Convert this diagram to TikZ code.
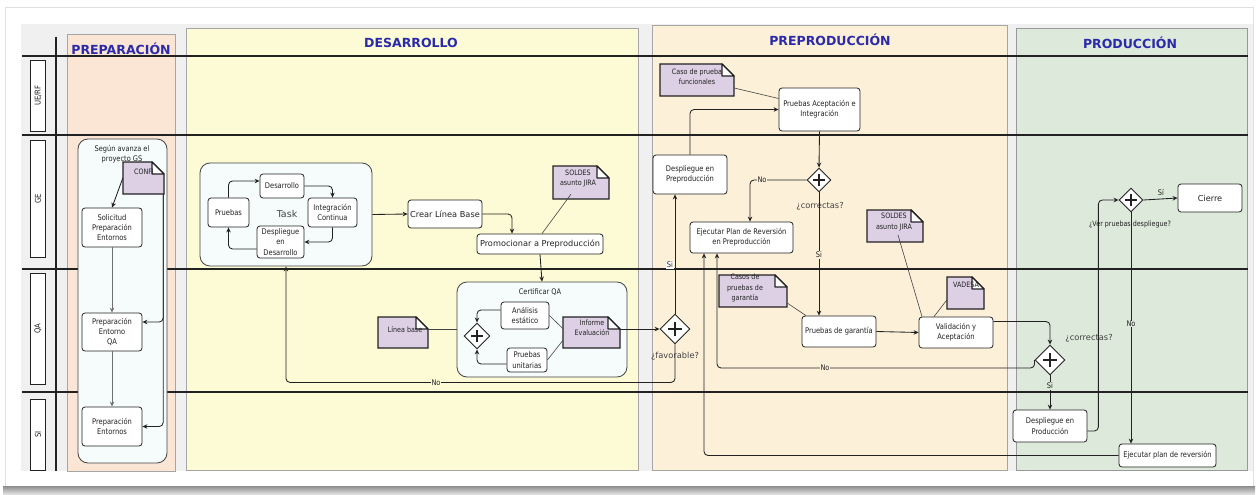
\documentclass[tikz,border=0pt]{standalone}
\usepackage{fontspec}
\setmainfont{DejaVu Sans}
\newfontfamily\cond{DejaVu Sans}[FakeStretch=0.86]
\usetikzlibrary{shapes.geometric,arrows.meta,calc,fit}
\definecolor{prepc}{HTML}{FBE6D6}
\definecolor{desc}{HTML}{FCFBD5}
\definecolor{prec}{HTML}{FCF0D8}
\definecolor{proc}{HTML}{DDE9DA}
\definecolor{panel}{HTML}{F0F0F0}
\definecolor{contc}{HTML}{F6FBFC}
\definecolor{notec}{HTML}{DDD0E5}
\definecolor{ttl}{HTML}{2A2AAA}
\definecolor{ink}{HTML}{222222}
\newcommand\notebox[5]{%
  \filldraw[notefill] (#2,#3) -- ({#4-12},#3) -- (#4,{#3+12}) -- (#4,#5) -- (#2,#5) -- cycle;
  \filldraw[fill=white, draw=ink, line width=1.2pt, line join=round] ({#4-12},#3) -- ({#4-12},{#3+12}) -- (#4,{#3+12}) -- cycle;
  \path (#2,#3) coordinate (#1-a) (#4,#5) coordinate (#1-b);
  \node[fit=(#1-a)(#1-b), inner sep=0pt] (#1) {};
}
\begin{document}
\begin{tikzpicture}[x=1pt,y=-1pt,
  box/.style={draw=ink, fill=white, rounded corners=3pt, line width=0.8pt, align=center, inner sep=1pt, font=\cond\fontsize{7.8}{10.2}\selectfont, text=ink},
  bigbox/.style={box, font=\fontsize{8.2}{10}\selectfont},
  contbox/.style={draw=ink!85, fill=contc, rounded corners=10pt, line width=0.8pt},
  gw/.style={diamond, draw=ink, fill=white, line width=0.9pt, inner sep=0pt, aspect=1},
  arr/.style={draw=ink, line width=0.85pt, -{Stealth[length=5pt,width=4.5pt]}, rounded corners=4pt},
  assoc/.style={draw=ink!85, line width=0.6pt},
  lbl/.style={font=\cond\fontsize{7.7}{9}\selectfont, text=ink, inner sep=0.6pt},
  qlbl/.style={font=\fontsize{8.3}{10}\selectfont, text=ink!85},
  ttlf/.style={font=\bfseries\fontsize{12.5}{14}\selectfont, text=ttl},
  lanebox/.style={draw=ink, fill=white, line width=0.8pt, rotate=90, font=\cond\fontsize{8}{9}\selectfont, text=ink, minimum height=15.5pt, inner sep=0pt},
  notefill/.style={fill=notec, draw=ink, line width=1.4pt, line join=miter},
  notet/.style={font=\cond\fontsize{7.4}{10.3}\selectfont, text=ink, align=center, inner sep=0pt},
]
\useasboundingbox (0,0) rectangle (1258,495);
% background
\fill[white] (0,0) rectangle (1258,495);
\shade[top color=black!45, bottom color=black!8] (3,486) rectangle (1255,495);
\draw[black!12, line width=0.8pt] (5,486) -- (5,7) -- (1253,7) -- (1253,486);
\fill[panel] (21,24) rectangle (1253,471);
% columns
\filldraw[fill=prepc, draw=black!35, line width=0.8pt] (67,34) rectangle (175,471);
\filldraw[fill=desc, draw=black!35, line width=0.8pt] (186,28) rectangle (638,470);
\filldraw[fill=prec, draw=black!35, line width=0.8pt] (652,25) rectangle (1007,470);
\filldraw[fill=proc, draw=black!40, line width=0.8pt] (1016,28) rectangle (1247,470);
\node[ttlf] (t1) at (121,48.5) {PREPARACIÓN};
\node[ttlf] (t2) at (411,43) {DESARROLLO};
\node[ttlf] (t3) at (830,40) {PREPRODUCCIÓN};
\node[ttlf] (t4) at (1130,43) {PRODUCCIÓN};
% lanes
\foreach \yy in {56,135,269,392} \draw[line width=1.1pt, ink] (22,\yy) -- (1248,\yy);
\draw[line width=1.1pt, ink] (56,37) -- (56,471);
\node[lanebox, minimum width=71pt] (l1) at (38,95.5) {UE/RF};
\node[lanebox, minimum width=117pt] (l2) at (38,198.5) {GE};
\node[lanebox, minimum width=111pt] (l3) at (38,328.5) {QA};
\node[lanebox, minimum width=71pt] (l4) at (38,434.5) {SI};
% ---------- PREPARACION
\node[contbox, minimum width=89pt, minimum height=324pt] (prepbox) at (122.5,301) {};
\node[lbl, align=center, font=\cond\fontsize{7.7}{10}\selectfont] (segun) at (122,154) {Según avanza el\\proyecto GS};
\notebox{conf}{123}{162}{164}{194}
\node[notet] at (144,172) {CONFI};
\node[box, minimum width=60pt, minimum height=39pt] (sol) at (112,227.5) {Solicitud\\Preparación\\Entornos};
\node[box, minimum width=60pt, minimum height=38pt] (pqa) at (112,332) {Preparación\\Entorno\\QA};
\node[box, minimum width=60pt, minimum height=39pt] (pen) at (112,426.5) {Preparación\\Entornos};
\draw[arr] (conf.west) -- (sol.north);
\draw[arr, draw=ink!65] (sol.south) -- (pqa.north);
\draw[arr, draw=ink!65] (pqa.south) -- (pen.north);
\draw[arr] ([xshift=-1pt]conf.south east) |- (pen.east);
\draw[arr] ([xshift=-1pt]conf.south east) |- ([yshift=10pt]pqa.east);
% ---------- DESARROLLO
\node[contbox, minimum width=172pt, minimum height=103pt] (task) at (286,214.5) {};
\node[font=\fontsize{9.5}{11}\selectfont, text=ink!85] (tasklbl) at (287,214) {Task};
\node[box, minimum width=44pt, minimum height=24pt] (des) at (282,186) {Desarrollo};
\node[box, minimum width=49pt, minimum height=29pt] (int) at (332.5,212.5) {Integración\\Continua};
\node[box, minimum width=47pt, minimum height=32pt] (dpd) at (280.5,242) {Despliegue\\en\\Desarrollo};
\node[box, minimum width=41pt, minimum height=29pt] (pru) at (228.5,212.5) {Pruebas};
\draw[arr] (pru.north) |- ([yshift=5pt]des.west);
\draw[arr] (des.east) -| (int.north);
\draw[arr] (int.south) |- (dpd.east);
\draw[arr] ([yshift=-7pt]dpd.west) -| (pru.south);
\node[bigbox, minimum width=74pt, minimum height=28pt] (crear) at (445,214) {Crear Línea Base};
\node[bigbox, minimum width=126pt, minimum height=20pt] (promo) at (540,244) {Promocionar a Preproducción};
\draw[arr] (task.east) -- (crear.west);
\draw[arr] (crear.east) -| ([xshift=-28pt]promo.north);
\notebox{sold1}{553}{166}{609}{199}
\node[notet] at (578,178.5) {SOLDES\\asunto JIRA};
\draw[assoc] ([xshift=-10pt,yshift=5pt]sold1.south) -- ([xshift=2pt]promo.north);
% Certificar QA
\node[contbox, minimum width=170pt, minimum height=95pt] (cert) at (542,329.5) {};
\node[lbl] (certlbl) at (540,292) {Certificar QA};
\draw[arr] (promo.south) -- (cert.north);
\node[gw, minimum width=26pt, minimum height=26pt] (gq) at (477,336) {};
\node[box, minimum width=48pt, minimum height=27pt] (ana) at (525,315.5) {Análisis\\estático};
\node[box, minimum width=40pt, minimum height=24pt] (pun) at (527,360) {Pruebas\\unitarias};
\draw[arr] ([yshift=5.5pt]ana.west) -| (gq.north);
\draw[arr] ([yshift=-4pt]pun.west) -| (gq.south);
\notebox{inf}{563}{317}{620}{348}
\node[notet] at (592,328) {Informe\\Evaluación};
\draw[assoc] (ana.east) -- ([yshift=4pt]inf.west);
\draw[assoc] (pun.east) -- ([yshift=-8pt]inf.west);
\notebox{lin}{378}{317}{428}{348}
\node[notet] at (405,330) {Línea base};
\draw[assoc] ([yshift=3pt]lin.east) -- ([yshift=3pt]lin.east -| cert.west);
% ---------- PREPRODUCCION
\node[gw, minimum width=30pt, minimum height=30pt] (fav) at (675,329) {};
\node[qlbl] (favq) at (675,356) {¿favorable?};
\draw[arr] ([yshift=3.5pt]inf.east) -- (fav.west);
\node[box, minimum width=74pt, minimum height=39pt] (dpp) at (690,174.5) {Despliegue en\\Preproducción};
\draw[arr] (fav.north) -- (fav.north |- dpp.south);
\node[lbl, fill=white] at (670,265) {Si};
\draw[arr] (fav.south) -- ++(0,38) -| (task.south);
\node[lbl, fill=desc] at (436,383) {No};
\node[box, minimum width=81pt, minimum height=43pt] (pai) at (819.5,109.5) {Pruebas Aceptación e\\Integración};
\draw[arr] (dpp.north) |- (pai.west);
\notebox{caso}{660}{64}{734}{96}
\node[notet] at (697,77) {Caso de prueba\\funcionales};
\draw[assoc] ([yshift=-8pt]caso.east) -- ([yshift=11pt]pai.west);
\node[gw, minimum width=24pt, minimum height=24pt] (c1) at (819,180) {};
\node[qlbl] (c1q) at (820,206) {¿correctas?};
\draw[arr] (pai.south) -- (c1.north);
\node[box, minimum width=103pt, minimum height=31pt] (epr) at (741.5,237.5) {Ejecutar Plan de Reversión\\en Preproducción};
\draw[arr] (c1.west) -| ([xshift=8.5pt]epr.north);
\node[lbl, fill=prec] at (762,180) {No};
\node[box, minimum width=74pt, minimum height=31pt] (pga) at (839,331.5) {Pruebas de garantía};
\draw[arr] (c1.south) -- (c1.south |- pga.north);
\node[lbl, fill=prec] at (819,255) {Si};
\notebox{casos}{719}{275}{787}{307}
\node[notet] at (745,288) {Casos de\\pruebas de\\garantía};
\draw[assoc] ([yshift=-12pt]casos.east) -- ([xshift=-33pt]pga.north);
\node[box, minimum width=74pt, minimum height=31pt] (val) at (956,332.5) {Validación y\\Aceptación};
\draw[arr] (pga.east) -- (val.west);
\notebox{sold2}{867}{210}{923}{242}
\node[notet] at (894,222) {SOLDES\\asunto JIRA};
\draw[assoc] ([xshift=3pt,yshift=-9pt]sold2.center) -- ([xshift=-34pt]val.north);
\notebox{vad}{947}{277}{984}{309}
\node[notet] at (966,285) {VADESA};
\draw[assoc] ([yshift=-7pt]vad.west) -- ([xshift=-22pt]val.north);
% ---------- PRODUCCION
\node[gw, minimum width=30pt, minimum height=30pt] (c2) at (1050,360) {};
\node[qlbl] (c2q) at (1089,338) {¿correctas?};
\draw[arr] ([yshift=11pt]val.east) -| (c2.north);
\draw[arr] (c2.west) -- ++(0,8) -| ([xshift=-24.5pt]epr.south);
\node[lbl, fill=prec] at (825,368) {No};
\node[box, minimum width=74pt, minimum height=32pt] (dpr) at (1050,426) {Despliegue en\\Producción};
\draw[arr] (c2.south) -- (dpr.north);
\node[lbl, fill=proc] at (1050,386) {Si};
\node[gw, minimum width=24pt, minimum height=24pt] (ver) at (1131,200) {};
\node[lbl, font=\cond\fontsize{7.4}{9}\selectfont] (verq) at (1130,224) {¿Ver pruebas despliegue?};
\node[bigbox, minimum width=64pt, minimum height=28pt] (cie) at (1210,198) {Cierre};
\node[box, minimum width=97pt, minimum height=23pt] (epr2) at (1167.5,455.5) {Ejecutar plan de reversión};
\draw[arr] ([yshift=-5pt]dpr.east) -- ++(11,0) |- (ver.west);
\draw[arr] (ver.east) -- (cie.west);
\node[lbl] at (1161,192) {Sí};
\draw[arr] (ver.south) -- (ver.south |- epr2.north);
\node[lbl, fill=proc] at (1131,324) {No};
\draw[arr] (epr2.west) -| ([xshift=-37.5pt]epr.south);
% plus signs in gateways
\foreach \g/\s in {gq/6,fav/7,c1/6,c2/7,ver/6}{
  \draw[line width=2.4pt, ink] ([xshift=-\s pt]\g.center) -- ([xshift=\s pt]\g.center);
  \draw[line width=2.4pt, ink] ([yshift=-\s pt]\g.center) -- ([yshift=\s pt]\g.center);
}
\end{tikzpicture}
\end{document}
